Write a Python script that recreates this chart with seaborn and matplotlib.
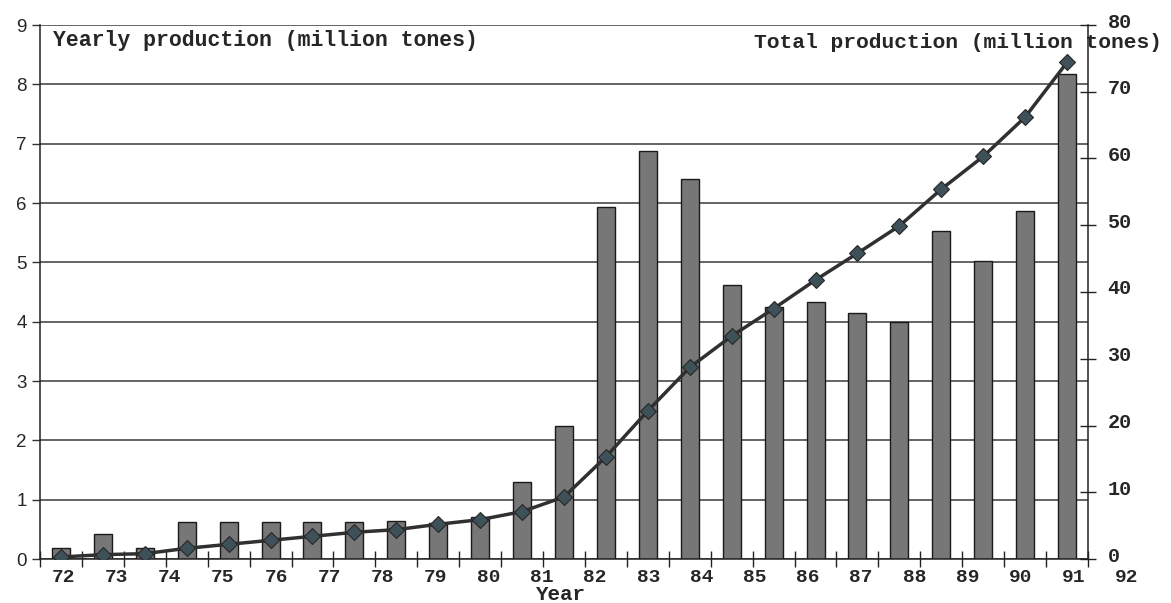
import numpy as np
import pandas as pd
import matplotlib
matplotlib.use("Agg")
import matplotlib.pyplot as plt
import matplotlib.transforms as mtransforms
import seaborn as sns

# ---------------- data ----------------
periods = list(range(1, 26))
yearly_production = [0.19, 0.42, 0.18, 0.63, 0.63, 0.63, 0.63, 0.63, 0.64, 0.61,
                     0.71, 1.30, 2.25, 5.94, 6.87, 6.41, 4.62, 4.25, 4.33, 4.14,
                     3.99, 5.53, 5.03, 5.87, 8.17]
total_production = [0.3, 0.65, 0.8, 1.6, 2.2, 2.8, 3.4, 4.0, 4.4, 5.2,
                    5.9, 7.1, 9.3, 15.3, 22.2, 28.7, 33.4, 37.5, 41.8, 45.8,
                    49.9, 55.4, 60.3, 66.2, 74.4]
year_labels = ["72", "73", "74", "75", "76", "77", "78", "79", "80", "81", "82",
               "83", "84", "85", "86", "87", "88", "89", "90", "91", "92"]
left_ticks = [0, 1, 2, 3, 4, 5, 6, 7, 8, 9]
right_ticks = [0, 10, 20, 30, 40, 50, 60, 70, 80]
left_title = "Yearly production (million tones)"
right_title = "Total production (million tones)"
x_title = "Year"

# ---------------- style ----------------
sns.set_style("white")
plt.rcParams["font.family"] = ["Liberation Sans", "DejaVu Sans"]
MONO = ["Liberation Mono", "DejaVu Sans Mono"]
TXT = "#262626"

W, H = 1171, 603
fig = plt.figure(figsize=(W / 100, H / 100), dpi=100)
ax_left, ax_right, ax_top, ax_bot = 40, 1088, 25, 559
ax = fig.add_axes([ax_left / W, 1 - ax_bot / H, (ax_right - ax_left) / W, (ax_bot - ax_top) / H])

df = pd.DataFrame({"period": periods, "yearly": yearly_production, "total": total_production})
df["pos"] = np.arange(len(df))

sns.barplot(data=df, x="period", y="yearly", ax=ax, color="#777777", saturation=1,
            width=0.43, edgecolor="#1a1a1a", linewidth=1.0, zorder=2)
n = len(df)
ax.set_xlim(-0.5, n - 0.5)
ax.set_ylim(0, 9)
ax.set_yticks(left_ticks)
ax.yaxis.grid(True, color="#3a3a3a", lw=1.1)
ax.xaxis.grid(False)
ax.set_axisbelow(True)
ax.set_xticks(np.arange(-0.5, n, 1.0))
ax.set_xticklabels([])
ax.tick_params(axis="x", direction="inout", length=11, width=1, color="#222222", bottom=True)
ax.tick_params(axis="y", direction="out", length=6, width=1, color="#333333",
               labelsize=13.5, pad=3.5, labelcolor=TXT, left=True)
ax.set_xlabel("")
ax.set_ylabel("")
for s in ["top", "right"]:
    ax.spines[s].set_visible(False)
for s in ["left", "bottom"]:
    ax.spines[s].set_color("#222222")
    ax.spines[s].set_linewidth(1.1)

# ---------------- cumulative line on right axis ----------------
ax2 = ax.twinx()
sns.lineplot(data=df, x="pos", y="total", ax=ax2, color="#303030", lw=2.5,
             marker="D", markersize=8.5, markerfacecolor="#3e5058",
             markeredgecolor="#262626", markeredgewidth=0.8)
ax2.set_ylim(0, 80)
ax2.set_yticks(right_ticks)
ax2.set_ylabel("")
ax2.set_xlabel("")
ax2.tick_params(axis="y", direction="inout", length=11, width=1, color="#222222",
                labelsize=14.5, pad=8.5, labelcolor=TXT, right=True)
# in the reference the right-hand labels sit a few pixels above their ticks
lift = mtransforms.ScaledTranslation(0, 5 / 100, fig.dpi_scale_trans)
for tick in ax2.yaxis.get_major_ticks():
    lab = tick.label2
    lab.set_fontfamily(MONO)
    lab.set_fontweight("bold")
    lab.set_transform(lab.get_transform() + lift)
for s in ["top", "left", "bottom"]:
    ax2.spines[s].set_visible(False)
ax2.spines["right"].set_color("#222222")
ax2.spines["right"].set_linewidth(1.1)
ax2.set_xlim(-0.5, n - 0.5)

# ---------------- x tick labels (spread evenly, as in the reference) ----------------
px_per_unit = (ax_right - ax_left) / n
first_px, step_px = 63.3, 53.19
baseline_y = -(582 - ax_bot) / (ax_bot - ax_top)
for k, lab in enumerate(year_labels):
    xpos = (first_px + step_px * k - ax_left) / px_per_unit - 0.5
    ax.text(xpos, baseline_y, lab, transform=ax.get_xaxis_transform(), ha="center",
            va="baseline", family=MONO, weight="bold", size=14, color=TXT, clip_on=False)

# ---------------- titles ----------------
fig.text(53 / W, 1 - 46 / H, left_title, ha="left", va="baseline", family=MONO,
         weight="bold", size=15.5, color=TXT)
fig.text(1162 / W, 1 - 48 / H, right_title, ha="right", va="baseline", family=MONO,
         weight="bold", size=15.3, color=TXT)
fig.text(561 / W, 1 - 600 / H, x_title, ha="center", va="baseline", family=MONO,
         weight="bold", size=15, color=TXT)

fig.savefig("out.png", dpi=100)
